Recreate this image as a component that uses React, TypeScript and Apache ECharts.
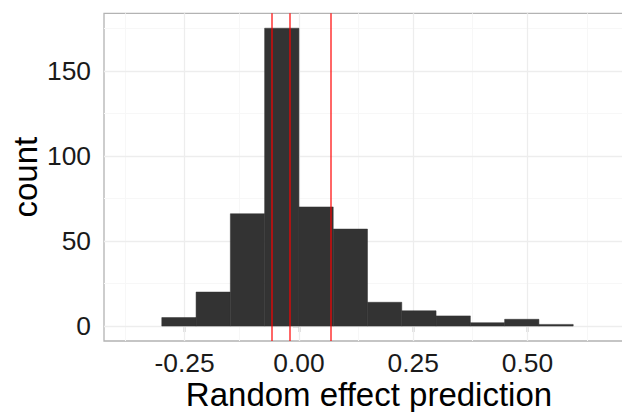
import React, { useEffect, useRef } from "react";
import * as echarts from "echarts";

// Histogram bins (left edges, right edges) and counts
const binLeft = [-0.3, -0.225, -0.15, -0.075, 0, 0.075, 0.15, 0.225, 0.3, 0.375, 0.45, 0.525];
const binRight = [-0.225, -0.15, -0.075, 0, 0.075, 0.15, 0.225, 0.3, 0.375, 0.45, 0.525, 0.6];
const counts = [5, 20, 66, 175, 70, 57, 14, 9, 6, 2, 4, 1];

// Vertical reference lines
const refLines = [-0.062, -0.016, 0.065];

// Axis ticks and gridlines
const xTicks = [-0.25, 0, 0.25, 0.5];
const xMinor = [-0.375, -0.125, 0.125, 0.375, 0.625];
const yTicks = [0, 50, 100, 150];
const yMinor = [25, 75, 125, 175];

const X_MIN = -0.4264;
const X_MAX = 0.733;
const Y_MIN = -8.75;
const Y_MAX = 183.75;

const FONT = "Liberation Sans, Arial, Helvetica, sans-serif";

export default function App() {
  const ref = useRef<HTMLDivElement>(null);
  useEffect(() => {
    document.body.style.margin = "0";
    const chart = echarts.init(ref.current!, null, { renderer: "svg" });
    const histData = counts.map((c, i) => [binLeft[i], binRight[i], c]);
    const gridLine = (v: number, axis: "x" | "y", color: string, width: number) =>
      axis === "x"
        ? { xAxis: v, lineStyle: { color, width, type: "solid" } }
        : { yAxis: v, lineStyle: { color, width, type: "solid" } };
    chart.setOption({
      animation: false,
      backgroundColor: "#ffffff",
      grid: {
        left: 104,
        right: -12,
        top: 13.3,
        bottom: 71,
        containLabel: false,
        outerBoundsMode: "none",
        show: true,
        borderColor: "#b3b3b3",
        borderWidth: 1.3,
        backgroundColor: "#ffffff",
      },
      xAxis: {
        type: "value",
        min: X_MIN,
        max: X_MAX,
        axisLine: { show: false },
        splitLine: { show: false },
        axisTick: {
          show: true,
          customValues: xTicks,
          length: 6,
          lineStyle: { color: "#333333", width: 1.3 },
        },
        axisLabel: {
          customValues: xTicks,
          margin: 9,
          fontSize: 26.4,
          fontFamily: FONT,
          color: "#1a1a1a",
          formatter: (v: number) => v.toFixed(2),
        },
        name: "Random effect prediction",
        nameLocation: "middle",
        nameGap: 37,
        nameMoveOverlap: false,
        nameTextStyle: { fontSize: 33, fontFamily: FONT, color: "#000000" },
      },
      yAxis: {
        type: "value",
        min: Y_MIN,
        max: Y_MAX,
        axisLine: { show: false },
        splitLine: { show: false },
        axisTick: {
          show: true,
          customValues: yTicks,
          length: 6,
          lineStyle: { color: "#333333", width: 1.3 },
        },
        axisLabel: {
          customValues: yTicks,
          margin: 13,
          fontSize: 26.4,
          fontFamily: FONT,
          color: "#1a1a1a",
        },
        name: "count",
        nameLocation: "middle",
        nameGap: 62,
        nameMoveOverlap: false,
        nameTextStyle: { fontSize: 33, fontFamily: FONT, color: "#000000" },
      },
      series: [
        {
          type: "line",
          data: [],
          silent: true,
          z: 1,
          markLine: {
            silent: true,
            symbol: "none",
            label: { show: false },
            animation: false,
            z: 1,
            data: [
              ...xMinor.map((v) => gridLine(v, "x", "#f7f7f7", 1)),
              ...yMinor.map((v) => gridLine(v, "y", "#f7f7f7", 1)),
              ...xTicks.map((v) => gridLine(v, "x", "#ededed", 1.3)),
              ...yTicks.map((v) => gridLine(v, "y", "#ededed", 1.3)),
            ],
          },
        },
        {
          type: "custom",
          z: 3,
          data: histData,
          encode: { x: [0, 1], y: 2 },
          renderItem: (params: any, api: any) => {
            const p0 = api.coord([api.value(0), api.value(2)]);
            const p1 = api.coord([api.value(1), 0]);
            return {
              type: "rect",
              shape: { x: p0[0], y: p0[1], width: p1[0] - p0[0], height: p1[1] - p0[1] },
              style: { fill: "#333333", stroke: "#333333", lineWidth: 0.5 },
            };
          },
          markLine: {
            silent: true,
            symbol: "none",
            label: { show: false },
            animation: false,
            z: 6,
            lineStyle: { color: "rgba(255,0,0,0.75)", width: 1.6, type: "solid" },
            data: refLines.map((v) => ({ xAxis: v })),
          },
        },
      ],
    });
    return () => chart.dispose();
  }, []);
  return (
    <div style={{ position: "fixed", left: 0, top: 0, width: 622, height: 412, overflow: "hidden" }}>
      <div ref={ref} style={{ width: 622, height: 412 }} />
    </div>
  );
}
